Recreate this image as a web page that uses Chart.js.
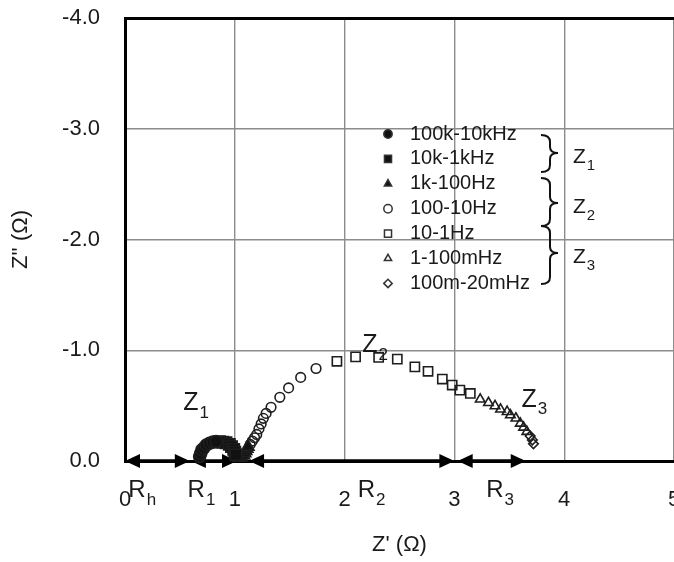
<!DOCTYPE html>
<html>
<head>
<meta charset="utf-8">
<script src="https://cdn.jsdelivr.net/npm/chart.js@4.4.1/dist/chart.umd.min.js"></script>
<style>
  html, body { margin: 0; padding: 0; background: #fff; }
</style>
</head>
<body>
<canvas id="nyquist" width="674" height="562"></canvas>
<script>
// Nyquist plot, Z' vs Z'' (Ohm).
const legendLabels = ['100k-10kHz', '10k-1kHz', '1k-100Hz', '100-10Hz', '10-1Hz', '1-100mHz', '100m-20mHz'];
const xTicks = [0, 1, 2, 3, 4, 5];
const yTicks = [-4, -3, -2, -1, 0];

// 100k-10kHz (filled circles)
const hfX = [0.68, 0.69, 0.70, 0.72, 0.74, 0.77, 0.80, 0.83];
const hfY = [-0.04, -0.07, -0.10, -0.12, -0.145, -0.16, -0.17, -0.175];
// 10k-1kHz (filled squares)
const mfX = [0.86, 0.89, 0.92, 0.95, 0.97, 0.99, 1.00, 1.01];
const mfY = [-0.175, -0.17, -0.165, -0.15, -0.13, -0.105, -0.08, -0.055];
// 1k-100Hz (filled triangles)
const kX = [1.02, 1.04, 1.06, 1.08, 1.09, 1.10, 1.11, 1.12];
const kY = [-0.04, -0.03, -0.035, -0.05, -0.07, -0.09, -0.11, -0.13];
// 100-10Hz (open circles)
const hzX = [1.14, 1.16, 1.18, 1.20, 1.22, 1.24, 1.26, 1.285, 1.33, 1.41, 1.49, 1.60, 1.74];
const hzY = [-0.15, -0.18, -0.21, -0.24, -0.29, -0.335, -0.385, -0.43, -0.485, -0.575, -0.66, -0.755, -0.835];
// 10-1Hz (open squares)
const dX = [1.93, 2.10, 2.31, 2.48, 2.64, 2.76, 2.89, 2.98, 3.05, 3.145];
const dY = [-0.90, -0.94, -0.935, -0.92, -0.85, -0.81, -0.74, -0.686, -0.64, -0.61];
// 1-100mHz (open triangles)
const mhX = [3.235, 3.31, 3.37, 3.42, 3.48, 3.51, 3.56, 3.60, 3.63, 3.66];
const mhY = [-0.557, -0.526, -0.497, -0.467, -0.445, -0.415, -0.386, -0.34, -0.304, -0.265];
// 100m-20mHz (open diamonds)
const lX = [3.69, 3.71, 3.72];
const lY = [-0.226, -0.19, -0.155];

// resistance spans along the real axis
const rSpans = [[0, 0.59], [0.60, 1.02], [1.13, 3.00], [3.03, 3.65]];
const rLabels = [['R', 'h', 0.03], ['R', '1', 0.57], ['R', '2', 2.12], ['R', '3', 3.29]];
const zLabels = [['Z', '1', 0.53, -0.46], ['Z', '2', 2.16, -0.98], ['Z', '3', 3.61, -0.49]];

const FONT = '"Liberation Sans", Arial, sans-serif';
const INK = '#1a1a1a';

function pts(xs, ys) {
    return xs.map((x, i) => ({ x: x, y: ys[i] }));
}

function series(label, xs, ys, style, radius, filled) {
    return {
        label: label,
        data: pts(xs, ys),
        pointStyle: style,
        pointRadius: radius,
        pointHoverRadius: radius,
        borderColor: '#1e1e1e',
        pointBorderWidth: 1.6,
        backgroundColor: filled ? '#111' : 'rgba(0,0,0,0)',
        showLine: false,
        clip: false
    };
}

const datasets = [
    series(legendLabels[0], hfX, hfY, 'circle', 6, true),
    series(legendLabels[1], mfX, mfY, 'rect', 8, true),
    series(legendLabels[2], kX, kY, 'triangle', 7, true),
    series(legendLabels[3], hzX, hzY, 'circle', 4.8, false),
    series(legendLabels[4], dX, dY, 'rect', 6.5, false),
    series(legendLabels[5], mhX, mhY, 'triangle', 5.5, false),
    series(legendLabels[6], lX, lY, 'rectRot', 4.8, false)
];

function subText(ctx, main, sub, x, y, size, subSize) {
    ctx.font = size + 'px ' + FONT;
    ctx.textAlign = 'left';
    ctx.textBaseline = 'alphabetic';
    ctx.fillText(main, x, y);
    const w = ctx.measureText(main).width;
    ctx.font = subSize + 'px ' + FONT;
    ctx.fillText(sub, x + w + 1, y + subSize * 0.45);
}

function arrowHead(ctx, x, y, dir) {
    ctx.beginPath();
    ctx.moveTo(x, y);
    ctx.lineTo(x - dir * 15, y - 7);
    ctx.lineTo(x - dir * 15, y + 7);
    ctx.closePath();
    ctx.fill();
}

function brace(ctx, x, y1, y2, tip) {
    ctx.beginPath();
    ctx.moveTo(x, y1);
    ctx.quadraticCurveTo(x + 9, y1, x + 9, y1 + 7);
    ctx.lineTo(x + 9, tip - 6);
    ctx.quadraticCurveTo(x + 9, tip, x + 17, tip);
    ctx.quadraticCurveTo(x + 9, tip, x + 9, tip + 6);
    ctx.lineTo(x + 9, y2 - 7);
    ctx.quadraticCurveTo(x + 9, y2, x, y2);
    ctx.stroke();
}

const axisMarks = {
    id: 'axisMarks',
    beforeDatasetsDraw(chart) {
        const ctx = chart.ctx, xs = chart.scales.x, ys = chart.scales.y;
        const y0 = ys.getPixelForValue(0);
        ctx.save();
        ctx.strokeStyle = '#000';
        ctx.fillStyle = '#000';
        ctx.lineWidth = 3.5;
        rSpans.forEach(s => {
            const a = xs.getPixelForValue(s[0]), b = xs.getPixelForValue(s[1]);
            ctx.beginPath();
            ctx.moveTo(a + 4, y0);
            ctx.lineTo(b - 4, y0);
            ctx.stroke();
            arrowHead(ctx, a, y0, -1);
            arrowHead(ctx, b, y0, 1);
        });
        ctx.fillStyle = INK;
        rLabels.forEach(r => subText(ctx, r[0], r[1], xs.getPixelForValue(r[2]), y0 + 36, 24, 17));
        zLabels.forEach(z => subText(ctx, z[0], z[1], xs.getPixelForValue(z[2]), ys.getPixelForValue(z[3]), 25, 17));
        ctx.restore();
    },
    afterDraw(chart) {
        const ctx = chart.ctx;
        ctx.save();
        chart.data.datasets.forEach((ds, i) => {
            const cy = 134 + i * 24.9;
            ctx.fillStyle = ds.backgroundColor;
            ctx.strokeStyle = '#333';
            ctx.lineWidth = 1.5;
            Chart.helpers.drawPoint(ctx, {
                pointStyle: ds.pointStyle,
                radius: ds.pointStyle === 'rect' ? 5 : 4.2,
                borderWidth: 1.5,
                rotation: 0
            }, 388, cy);
            ctx.fillStyle = INK;
            ctx.font = '20px ' + FONT;
            ctx.textAlign = 'left';
            ctx.textBaseline = 'middle';
            ctx.fillText(ds.label, 410, cy);
        });
        ctx.strokeStyle = '#111';
        ctx.lineWidth = 2;
        brace(ctx, 541, 135, 172, 153);
        brace(ctx, 541, 178, 226, 203);
        brace(ctx, 541, 226, 284, 253);
        ctx.fillStyle = INK;
        subText(ctx, 'Z', '1', 573, 163, 21, 15);
        subText(ctx, 'Z', '2', 573, 213, 21, 15);
        subText(ctx, 'Z', '3', 573, 263, 21, 15);
        ctx.restore();
    }
};

new Chart(document.getElementById('nyquist'), {
    type: 'scatter',
    data: { datasets: datasets },
    options: {
        responsive: false,
        animation: false,
        devicePixelRatio: 1,
        layout: { autoPadding: false, padding: { top: 18, right: -2, left: 0, bottom: 0 } },
        plugins: { legend: { display: false }, tooltip: { enabled: false } },
        scales: {
            x: {
                type: 'linear',
                min: 0,
                max: 5,
                afterBuildTicks: s => { s.ticks = xTicks.map(v => ({ value: v })); },
                afterFit: s => { s.height = 101; s.paddingLeft = 0; s.paddingRight = 0; },
                ticks: { color: INK, font: { family: FONT, size: 22 }, padding: 26 },
                grid: {
                    color: c => (c.tick && c.tick.value === 0) ? 'rgba(0,0,0,0)' : '#8c8c8c',
                    lineWidth: 1.4,
                    drawTicks: false
                },
                border: { color: '#000', width: 3 },
                title: { display: true, text: "Z' (Ω)", color: INK, font: { family: FONT, size: 22 }, padding: { top: 0, bottom: 4 } }
            },
            y: {
                type: 'linear',
                min: -4,
                max: 0,
                reverse: true,
                afterBuildTicks: s => { s.ticks = yTicks.map(v => ({ value: v })); },
                afterFit: s => { s.width = 125; s.paddingTop = 0; s.paddingBottom = 0; },
                ticks: { color: INK, font: { family: FONT, size: 22 }, padding: 25, callback: v => v.toFixed(1) },
                grid: {
                    color: c => {
                        if (!c.tick) return '#8c8c8c';
                        if (c.tick.value === -4) return '#000';
                        if (c.tick.value === 0) return 'rgba(0,0,0,0)';
                        return '#8c8c8c';
                    },
                    lineWidth: c => (c.tick && c.tick.value === -4) ? 3 : 1.4,
                    drawTicks: false
                },
                border: { color: '#000', width: 3 },
                title: { display: true, text: "Z'' (Ω)", color: INK, font: { family: FONT, size: 22 }, padding: { top: 8, bottom: 0 } }
            }
        }
    },
    plugins: [axisMarks]
});
</script>
</body>
</html>
